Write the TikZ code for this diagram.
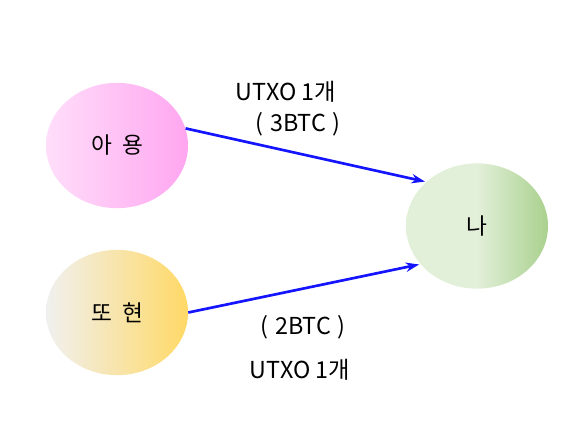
\documentclass[tikz,border=0pt]{standalone}
\usepackage{fontspec}
\setmainfont{Noto Sans CJK KR}
\usepackage{xcolor}
\usetikzlibrary{arrows.meta, positioning, shapes.geometric}

\definecolor{pinkL}{RGB}{255,222,250}
\definecolor{pinkR}{RGB}{255,166,240}
\definecolor{greyL}{RGB}{240,240,240}
\definecolor{goldR}{RGB}{255,217,102}
\definecolor{greenL}{RGB}{226,239,217}
\definecolor{greenR}{RGB}{169,209,142}
\definecolor{txblue}{RGB}{20,20,255}

\pgfdeclarehorizontalshading{pinkshade}{100bp}{color(0bp)=(pinkL); color(25bp)=(pinkL); color(75bp)=(pinkR); color(100bp)=(pinkR)}
\pgfdeclarehorizontalshading{goldshade}{100bp}{color(0bp)=(greyL); color(25bp)=(greyL); color(75bp)=(goldR); color(100bp)=(goldR)}
\pgfdeclarehorizontalshading{greenshade}{100bp}{color(0bp)=(greenL); color(50bp)=(greenL); color(75bp)=(greenR); color(100bp)=(greenR)}

\begin{document}
\begin{tikzpicture}[
    x=0.75pt, y=-0.75pt,
    person/.style={ellipse, inner sep=0pt, minimum width=106.5pt,
                   minimum height=94pt, font=\fontsize{17}{20}\selectfont},
    tx/.style={-{Stealth[length=10pt, width=7pt]}, line width=2pt,
               draw=txblue, shorten >=1pt},
    note/.style={font=\fontsize{17.5}{20}\selectfont, inner sep=0pt}
]
    \useasboundingbox (0,0) rectangle (588,444);

    % ── senders ──
    \node[person, shading=pinkshade] (Ayong) at (117,145.5) {아\hspace{0.45em}용};
    \node[person, shading=goldshade] (Ttohyeon) at (117,312.5) {또\hspace{0.45em}현};

    % ── receiver ──
    \node[person, shading=greenshade] (Na) at (477,226) {나};

    % ── labels ──
    \node[note] (utxoTop) at (286,92) {UTXO 1개};
    \node[note] (amtTop) at (298,124) {(\hspace{0.3em}3BTC\hspace{0.3em})};
    \node[note] (amtBot) at (303,327) {(\hspace{0.3em}2BTC\hspace{0.3em})};
    \node[note] (utxoBot) at (300,370) {UTXO 1개};

    % ── transfers ──
    \draw[tx] (Ayong.14) -- (Na.139);
    \draw[tx] (Ttohyeon.0) -- (Na.214);

\end{tikzpicture}
\end{document}
